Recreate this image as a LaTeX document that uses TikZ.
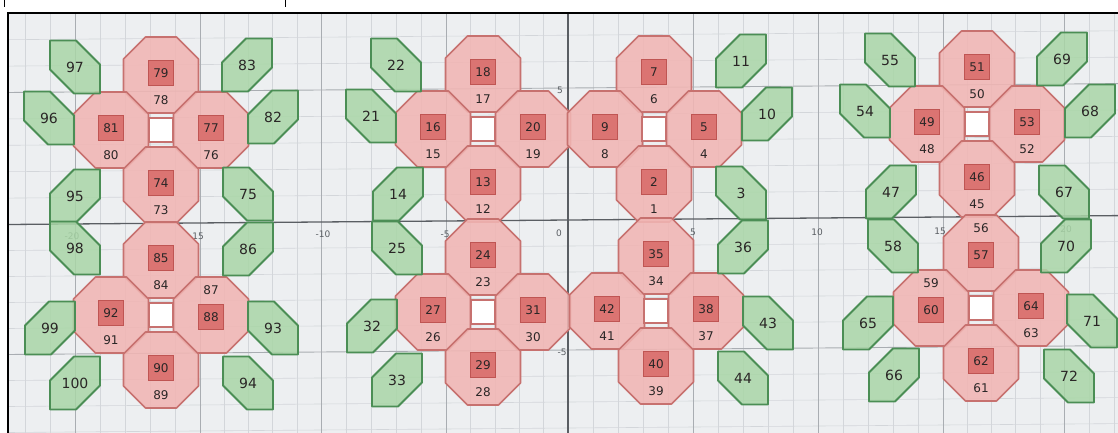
\documentclass[tikz,border=0pt]{standalone}
\usepackage{fontspec}
\setmainfont{DejaVu Sans}
\definecolor{bg}{HTML}{EDEFF1}
\definecolor{gridminor}{HTML}{D3D6DA}
\definecolor{gridmajor}{HTML}{A9ADB2}
\definecolor{axiscol}{HTML}{5A5E63}
\definecolor{octfill}{HTML}{F1B6B4}
\definecolor{octline}{HTML}{C7716F}
\definecolor{sqfill}{HTML}{DB7472}
\definecolor{sqline}{HTML}{BF5553}
\definecolor{leaffill}{HTML}{A9D6A7}
\definecolor{leafline}{HTML}{4B8E55}
\definecolor{txt}{HTML}{2A2626}
\begin{document}
\begin{tikzpicture}[x=1pt,y=-1pt,
  minor/.style={draw=gridminor, line width=0.6pt},
  major/.style={draw=gridmajor, line width=0.9pt},
  axisline/.style={draw=axiscol, line width=1.3pt},
  octa/.style={fill=octfill, draw=octline, line width=1.6pt, fill opacity=0.88, line join=round},
  sqbox/.style={fill=sqfill, draw=sqline, line width=0.9pt, minimum size=25pt, inner sep=0pt, font=\fontsize{12}{12}\selectfont, text=txt},
  sublab/.style={font=\fontsize{12}{12}\selectfont, text=txt, inner sep=0pt},
  leaf/.style={fill=leaffill, draw=leafline, line width=1.8pt, fill opacity=0.85, line join=round},
  leaftxt/.style={font=\fontsize{14}{14}\selectfont, text=txt, inner sep=0pt},
  hole/.style={fill=white, draw=octline, line width=1.2pt, minimum size=24pt, inner sep=0pt},
  axlab/.style={font=\fontsize{9}{9}\selectfont, text=axiscol, inner sep=0pt}
]
\useasboundingbox (0,0) rectangle (1118,433);
\fill[white] (0,0) rectangle (1118,433);
\fill[bg] (8,13) rectangle (1118,433);
% small marks above the frame
\draw[black, line width=1pt] (4,0) -- (4,7);
\draw[black, line width=1pt] (285,0) -- (285,7);
% grid
\begin{scope}
\clip (8,13) rectangle (1118,433);
\foreach \a/\b in {-50/75,75/200,200/321,321/446,446/568,568/693,693/818,818/943,943/1064,1064/1189}{
  \foreach \i in {1,2,3,4}{
    \draw[minor] ({\a+(\b-(\a))*\i/5},13) -- ({\a+(\b-(\a))*\i/5},433);
  }
}
\foreach \a/\b in {-44/88,88/220,220/350,350/480}{
  \foreach \i in {1,2,3,4}{
    \draw[minor] (8,{\a+(\b-(\a))*\i/5+4.5}) -- (1118,{\a+(\b-(\a))*\i/5-4.4});
  }
}
\foreach \x in {75,200,321,446,693,818,943,1064}{
  \draw[major] (\x,13) -- (\x,433);
}
\foreach \y in {88,350}{
  \draw[major] (8,{\y+4.5}) -- (1118,{\y-4.4});
}
\draw[axisline] (568,13) -- (568,433);
\draw[axisline] (8,224.5) -- (1118,215.6);
\end{scope}
% axis labels
\node[axlab] (lm20) at (72,236) {-20};
\node[axlab] (lm15) at (198,236) {15};
\node[axlab] (lm10) at (323,234) {-10};
\node[axlab] (lm5) at (445,234) {-5};
\node[axlab] (l0) at (559,233) {0};
\node[axlab] (lp5) at (693,232) {5};
\node[axlab] (lp10) at (817,232) {10};
\node[axlab] (lp15) at (940,231) {15};
\node[axlab] (lp20) at (1066,229) {20};
\node[axlab] (ly5) at (560,90) {5};
\node[axlab] (lym5) at (562,352) {-5};
% red octagons: x/y/square number/sub number/direction (1 below, -1 above)
\foreach \x/\y/\s/\n/\d in {
  161/75/79/78/1, 111/130/81/80/1, 211/130/77/76/1, 161/185/74/73/1,
  161/260/85/84/1, 111/315/92/91/1, 211/315/88/87/-1, 161/370/90/89/1,
  483/74/18/17/1, 433/129/16/15/1, 533/129/20/19/1, 483/184/13/12/1,
  483/257/24/23/1, 433/312/27/26/1, 533/312/31/30/1, 483/367/29/28/1,
  654/74/7/6/1, 605/129/9/8/1, 704/129/5/4/1, 654/184/2/1/1,
  656/256/35/34/1, 607/311/42/41/1, 706/311/38/37/1, 656/366/40/39/1,
  977/69/51/50/1, 927/124/49/48/1, 1027/124/53/52/1, 977/179/46/45/1,
  981/253/57/56/-1, 931/308/60/59/-1, 1031/308/64/63/1, 981/363/62/61/1}{
  \path[octa, shift={(\x,\y)}] (-15.5,-38) -- (15.5,-38) -- (37.5,-16) -- (37.5,16)
     -- (15.5,38) -- (-15.5,38) -- (-37.5,16) -- (-37.5,-16) -- cycle;
  \node[sqbox] (s\s) at ({\x},{\y-2*\d}) {\s};
  \node[sublab] (n\n) at ({\x},{\y+25*\d}) {\n};
}
% central white squares
\foreach \x/\y/\k in {161/130/1, 161/315/2, 483/129/3, 483/312/4, 654/129/5, 656/311/6, 977/124/7, 981/308/8}{
  \node[hole] (h\k) at (\x,\y) {};
}
% green leaves: x/y/orientation (1 = "\", -1 = "/")/number
\foreach \x/\y/\o/\t in {
  75/67/1/97, 247/65/-1/83, 49/118/1/96, 273/117/-1/82,
  75/196/-1/95, 248/194/1/75, 75/248/1/98, 248/249/-1/86,
  50/328/-1/99, 273/328/1/93, 75/383/-1/100, 248/383/1/94,
  396/65/1/22, 371/116/1/21, 398/194/-1/14, 397/248/1/25, 372/326/-1/32, 397/380/-1/33,
  741/61/-1/11, 767/114/-1/10, 741/193/1/3, 743/247/-1/36, 768/323/1/43, 743/378/1/44,
  890/60/1/55, 1062/59/-1/69, 865/111/1/54, 1090/111/-1/68,
  891/192/-1/47, 1064/192/1/67, 893/246/1/58, 1066/246/-1/70,
  868/323/-1/65, 1092/321/1/71, 894/375/-1/66, 1069/376/1/72}{
  \path[leaf, shift={(\x,\y)}, xscale=\o] (-25,-26.5) -- (1,-26.5) -- (25,-2.5) -- (25,26.5)
     -- (-1,26.5) -- (-25,2.5) -- cycle;
  \node[leaftxt] (g\t) at (\x,\y) {\t};
}
% frame
\draw[black, line width=2.5pt, line join=miter] (8,433) -- (8,13) -- (1118,13);
\end{tikzpicture}
\end{document}
